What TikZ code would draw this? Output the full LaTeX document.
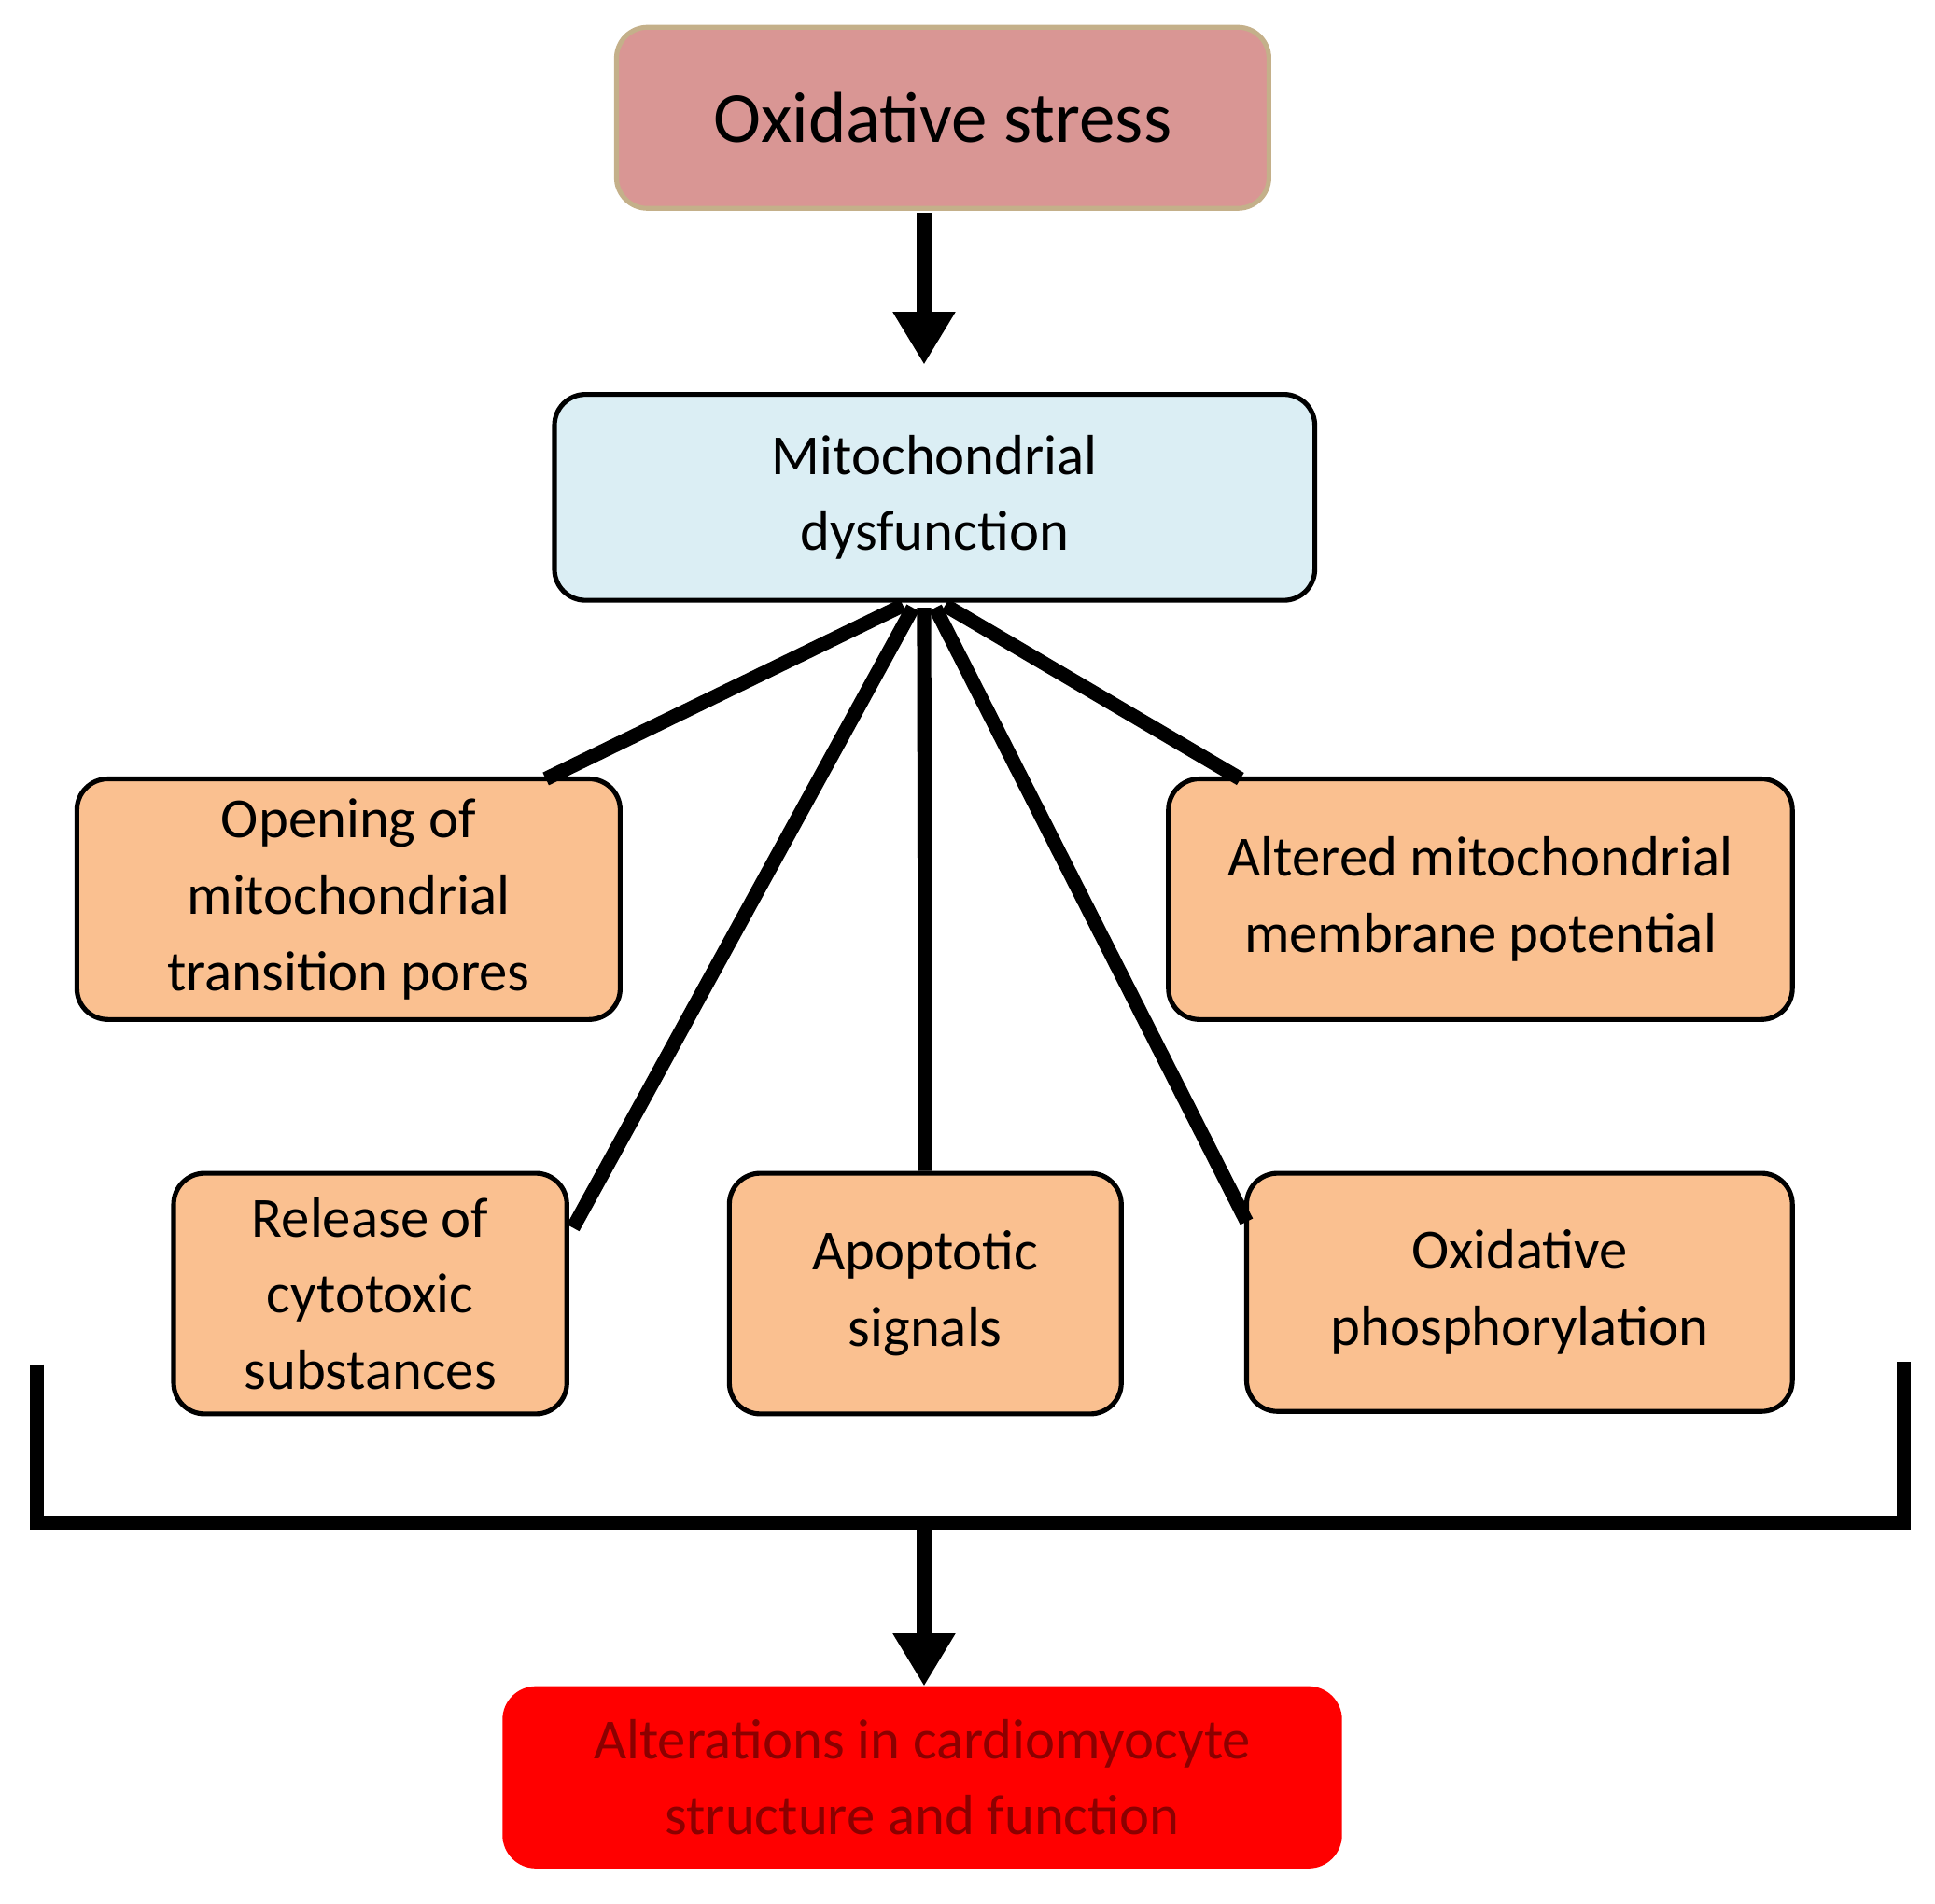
\documentclass[tikz,border=0pt]{standalone}
\usepackage{fontspec}
\setmainfont{Carlito}
\usetikzlibrary{arrows.meta}
\definecolor{pinkb}{HTML}{D99694}
\definecolor{pinkd}{HTML}{C4B08A}
\definecolor{blueb}{HTML}{DBEEF4}
\definecolor{orb}{HTML}{FAC090}
\definecolor{redb}{HTML}{FF0000}
\definecolor{redt}{HTML}{8B0000}
\begin{document}
\begin{tikzpicture}[x=0.02cm,y=-0.02cm,
  box/.style={draw=black,line width=2.2pt,rounded corners=0.5cm,align=center,inner sep=0pt},
  conn/.style={line width=6.5pt},
  arr/.style={line width=6.5pt,-{Triangle[length=0.85cm,width=0.95cm]}}]
\useasboundingbox (0,0) rectangle (1560,1535);
\node[box,draw=pinkd,fill=pinkb,minimum width=526*0.02cm,minimum height=146*0.02cm,font=\fontsize{33}{40}\selectfont] (os) at (760,95) {Oxidative stress};
\node[box,fill=blueb,minimum width=613*0.02cm,minimum height=166*0.02cm,font=\fontsize{26}{35}\selectfont] (md) at (753.5,401) {Mitochondrial\\dysfunction};
\tikzset{ob/.style={box,fill=orb,font=\fontsize{26}{35}\selectfont}}
\node[ob,minimum width=438*0.02cm,minimum height=194*0.02cm] (op) at (281,725) {Opening of\\mitochondrial\\transition pores};
\node[ob,minimum width=503*0.02cm,minimum height=194*0.02cm] (al) at (1193.5,725) {Altered mitochondrial\\membrane potential};
\node[ob,minimum width=317*0.02cm,minimum height=194*0.02cm] (rl) at (298.5,1043) {Release of\\cytotoxic\\substances};
\node[ob,minimum width=316*0.02cm,minimum height=194*0.02cm] (ap) at (746,1043) {Apoptotic\\signals};
\node[ob,minimum width=440*0.02cm,minimum height=192*0.02cm] (ph) at (1225,1042) {Oxidative\\phosphorylation};
\node[box,draw=redb,fill=redb,text=redt,minimum width=673*0.02cm,minimum height=143*0.02cm,font=\fontsize{26}{35}\selectfont] (alt) at (743.5,1433) {Alterations in cardiomyocyte\\structure and function};
\coordinate (m1) at (728,488);
\coordinate (m2) at (736,490);
\coordinate (m3) at (745,490);
\coordinate (m4) at (754,490);
\coordinate (m5) at (762,488);
\draw[conn] (m1) -- (440,628);
\draw[conn] (m2) -- (462,990);
\draw[conn] (m3) -- (ap.north);
\draw[conn] (m4) -- (1005,985);
\draw[conn] (m5) -- (1000,628);
\draw[arr] (os.south -| m3) ++(0,2) -- (745,294);
\coordinate (bl) at (30,1100);
\coordinate (br) at (1535,1098);
\draw[line width=6.5pt] (bl) -- (30,1228) -- (1535,1228) -- (br);
\draw[arr] (745,1228) -- (alt.north -| m3);
\end{tikzpicture}
\end{document}
